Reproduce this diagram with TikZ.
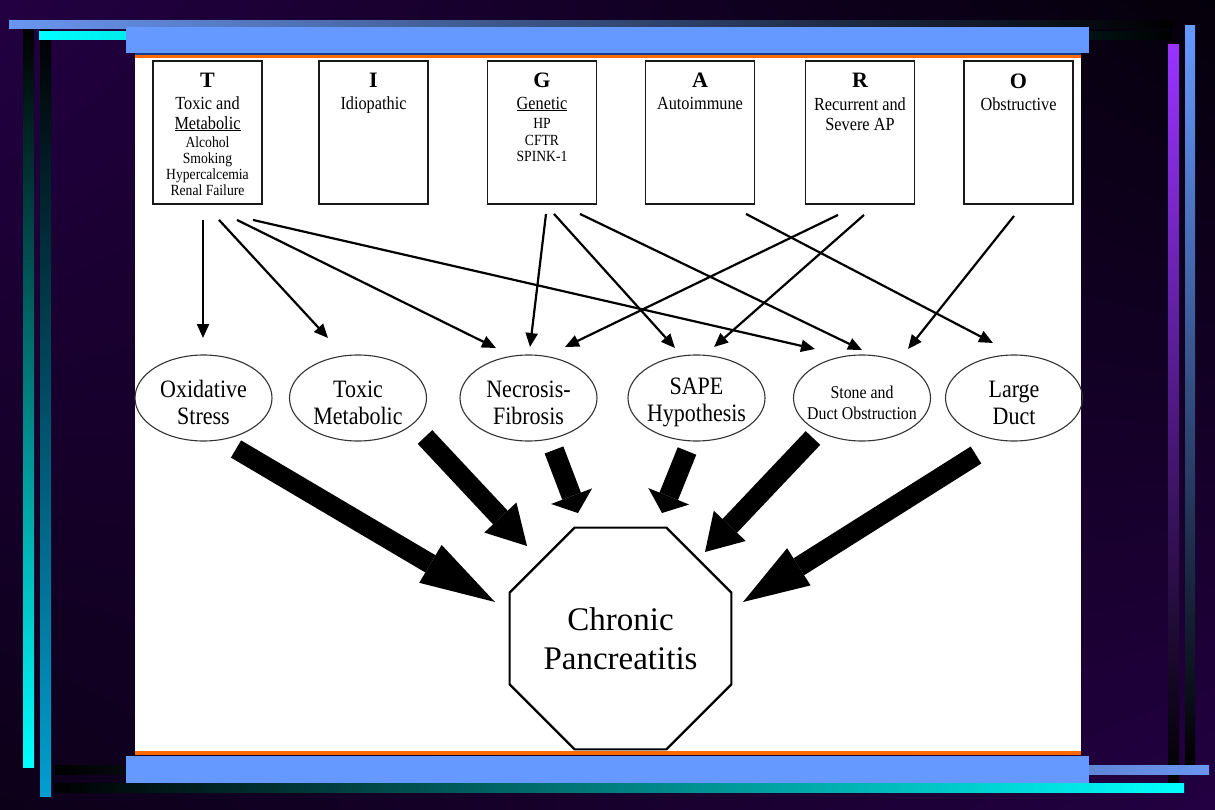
\documentclass[tikz,border=0pt]{standalone}
\usepackage{fontspec}
\setmainfont{Liberation Serif}
\newfontfamily\ellfont[FakeStretch=0.88]{Liberation Serif}
\newfontfamily\boxfont[FakeStretch=0.88]{Liberation Serif}
\usetikzlibrary{calc,arrows.meta,shapes.geometric,shadings}
\definecolor{barblue}{HTML}{6699FF}
\definecolor{thinblue}{HTML}{6A96F0}
\definecolor{bgpurple}{HTML}{230042}
\definecolor{bgdark}{HTML}{04000A}
\definecolor{bgll}{HTML}{0C0018}
\definecolor{orangeline}{HTML}{FF6A00}
\definecolor{navyline}{HTML}{143C8C}
\definecolor{vpurple}{HTML}{9933FF}
\definecolor{vcyan}{HTML}{00FFFF}
\definecolor{vteal}{HTML}{009FD0}
\tikzset{
  srcbox/.style={draw=black!90, line width=1.9pt, minimum width=109pt, minimum height=143pt, inner sep=0pt},
  letter/.style={anchor=base, inner sep=0pt, font=\fontsize{22}{22}\selectfont\bfseries},
  headtxt/.style={anchor=base, inner sep=0pt, font=\boxfont\fontsize{18.5}{18.5}\selectfont},
  subtxt/.style={anchor=base, inner sep=0pt, font=\boxfont\fontsize{15.5}{15.5}\selectfont},
  mech/.style={ellipse, draw=black!80, line width=1.1pt, minimum width=137pt, minimum height=86pt, inner sep=0pt},
  elltext/.style={inner sep=0pt, align=center, yshift=-4.5pt, font=\ellfont\fontsize{25}{27}\selectfont},
  smalltext/.style={inner sep=0pt, align=center, yshift=-4.5pt, font=\ellfont\fontsize{18}{21}\selectfont},
  link/.style={line width=2.2pt, -{Triangle[length=14pt,width=12pt]}},
  bigarrow/.style={line width=20pt, -{Triangle[length=#1,width=44pt,line width=0pt]}},
  bigarrow/.default=40pt
}
\begin{document}
\begin{tikzpicture}[x=1pt,y=-1pt]
\useasboundingbox (0,0) rectangle (1215,810);
% background
\shade[upper left=bgpurple, upper right=bgdark, lower left=bgll, lower right=bgpurple] (0,0) rectangle (1215,810);
% vertical bars
\shade[top color=black, bottom color=vcyan] (23,29) rectangle (34,767);
\shade[top color=black, bottom color=vteal] (40,30) rectangle (51,796);
\shade[top color=vpurple, bottom color=black] (1168,45) rectangle (1179,783);
\shade[top color=barblue, bottom color=black] (1185,26) rectangle (1195,765);
% horizontal bars
\shade[left color=thinblue, right color=black] (9,21) rectangle (1172,29);
\shade[left color=vcyan, right color=black] (39,32) rectangle (1172,40);
\shade[left color=black, right color=thinblue] (55,765) rectangle (1209,774);
\shade[left color=black, right color=vcyan] (55,783) rectangle (1184,792);
% panel
\fill[white] (135,55) rectangle (1081,753);
\fill[barblue] (126,27) rectangle (1089,53);
\fill[navyline] (135,53) rectangle (1081,55.5);
\fill[orangeline] (135,55.5) rectangle (1081,58);
\fill[orangeline] (135,751) rectangle (1081,754.5);
\fill[barblue] (126,755.5) rectangle (1089,783);

% source boxes
\node[srcbox] (T) at (207.5,132.5) {};
\node[srcbox] (I) at (373.5,132.5) {};
\node[srcbox] (G) at (542,132.5) {};
\node[srcbox] (A) at (700,132.5) {};
\node[srcbox] (R) at (860,132.5) {};
\node[srcbox] (O) at (1018.5,132.5) {};

\node[letter] at ($(T.north)+(0,27.5)$) {T};
\node[headtxt] at ($(T.north)+(0,49)$) {Toxic and};
\node[headtxt] at ($(T.north)+(0,69)$) {\underline{Metabolic}};
\node[subtxt] at ($(T.north)+(0,87.5)$) {Alcohol};
\node[subtxt] at ($(T.north)+(0,103.5)$) {Smoking};
\node[subtxt] at ($(T.north)+(0,119)$) {Hypercalcemia};
\node[subtxt] at ($(T.north)+(0,135.5)$) {Renal Failure};

\node[letter] at ($(I.north)+(0,27.5)$) {I};
\node[headtxt] at ($(I.north)+(0,49)$) {Idiopathic};

\node[letter] at ($(G.north)+(0,27.5)$) {G};
\node[headtxt] at ($(G.north)+(0,49)$) {\underline{Genetic}};
\node[subtxt] at ($(G.north)+(0,68.5)$) {HP};
\node[subtxt] at ($(G.north)+(0,85)$) {CFTR};
\node[subtxt] at ($(G.north)+(0,101.5)$) {SPINK-1};

\node[letter] at ($(A.north)+(0,27.5)$) {A};
\node[headtxt] at ($(A.north)+(0,49.5)$) {Autoimmune};

\node[letter] at ($(R.north)+(0,27.5)$) {R};
\node[headtxt] at ($(R.north)+(0,50)$) {Recurrent and};
\node[headtxt] at ($(R.north)+(0,70.5)$) {Severe AP};

\node[letter] at ($(O.north)+(0,28)$) {O};
\node[headtxt] at ($(O.north)+(0,50.5)$) {Obstructive};

% mechanisms
\node[mech, label={[elltext]center:{Oxidative\\Stress}}] (ox) at (203.5,398) {};
\node[mech, label={[elltext]center:{Toxic\\Metabolic}}] (tm) at (358,398) {};
\node[mech, label={[elltext]center:{Necrosis-\\Fibrosis}}] (nf) at (528.5,398) {};
\node[mech, label={[elltext]center:{SAPE\\Hypothesis}}] (sh) at (696.5,398) {};
\node[mech, label={[smalltext]center:{Stone and\\Duct Obstruction}}] (sd) at (862,398) {};
\node[mech, label={[elltext]center:{Large\\Duct}}] (ld) at (1014,398) {};

% outcome
\node[regular polygon, regular polygon sides=8, minimum size=240pt, inner sep=0pt, draw, line width=2.2pt, align=center, font=\fontsize{33}{39}\selectfont] (cp) at (620.5,638.5) {Chronic\\Pancreatitis};

% thin arrows
\draw[link] ($(T.south)+(-4.5,15)$) -- ($(ox)+(-0.5,-60)$);
\draw[link] ($(T.south)+(11.5,15)$) -- ($(tm)+(-30,-60)$);
\draw[link] ($(T.south)+(29.5,15)$) -- ($(nf)+(-32.5,-50)$);
\draw[link] ($(T.south)+(45.5,15)$) -- ($(sd)+(-47,-49)$);
\draw[link] ($(G.south)+(4,9)$) -- ($(nf)+(1.5,-51)$);
\draw[link] ($(G.south)+(12,9)$) -- ($(sh)+(-21.5,-50)$);
\draw[link] ($(G.south)+(38,9)$) -- ($(sd)+(0,-48)$);
\draw[link] ($(A.south)+(46,9)$) -- ($(ld)+(-21,-55)$);
\draw[link] ($(R.south)+(-22,10)$) -- ($(nf)+(36.5,-51)$);
\draw[link] ($(R.south)+(4,10)$) -- ($(sh)+(17.5,-51)$);
\draw[link] ($(O.south)+(-4.5,11)$) -- ($(sd)+(46,-49)$);

% big arrows
\draw[bigarrow=75pt] ($(ox)+(32.5,51)$) -- ($(cp)+(-125.5,-36.5)$);
\draw[bigarrow=39pt] ($(tm)+(67,39)$) -- ($(cp)+(-93.5,-92.5)$);
\draw[bigarrow=18pt] ($(nf)+(25.5,52)$) -- ($(cp)+(-42.5,-125.5)$);
\draw[bigarrow=18pt] ($(sh)+(-9.5,53)$) -- ($(cp)+(41.5,-125.5)$);
\draw[bigarrow=36pt] ($(sd)+(-49,40)$) -- ($(cp)+(84.5,-86.5)$);
\draw[bigarrow=66pt] ($(ld)+(-38,57)$) -- ($(cp)+(122.5,-36.5)$);
\end{tikzpicture}
\end{document}
